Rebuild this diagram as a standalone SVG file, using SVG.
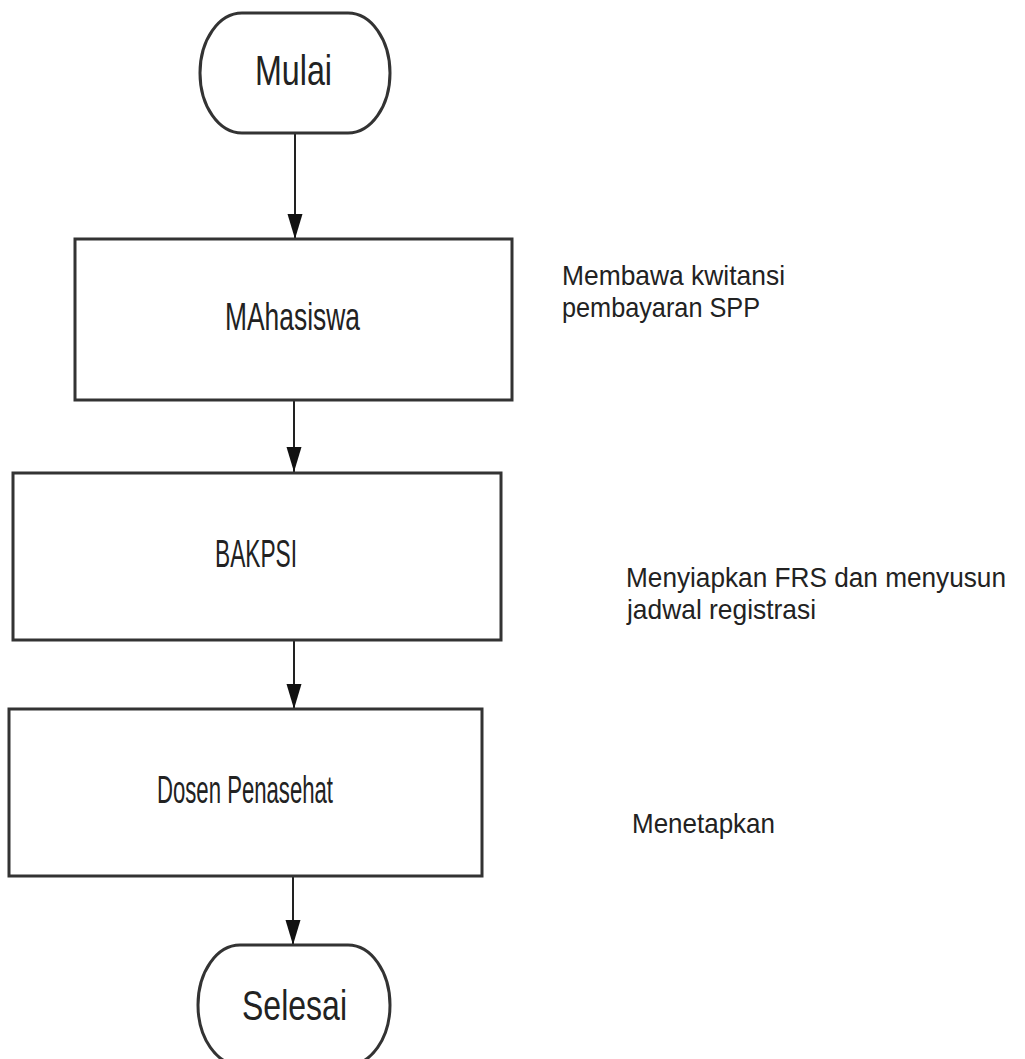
<svg xmlns="http://www.w3.org/2000/svg" width="1025" height="1059" viewBox="0 0 1025 1059">
<style>
  .shape { fill: #ffffff; stroke: #333333; stroke-width: 3; }
  .conn { fill: none; stroke: #222222; stroke-width: 2; }
  .lbl { font-family: "Liberation Sans", Arial, sans-serif; fill: #222222; }
  .term { font-size: 42px; }
  .box { font-size: 38px; }
  .side { font-size: 28px; }
  .side-s { font-size: 27px; }
</style>
<defs>
  <marker id="arrow" markerUnits="userSpaceOnUse" viewBox="0 -8 25 16" refX="25" refY="0" markerWidth="25" markerHeight="16" orient="auto">
    <path d="M0,-7.5 L25,0 L0,7.5 Z" fill="#111111"/>
  </marker>
</defs>
<rect width="1025" height="1059" fill="#ffffff"/>
<g id="connectors">
  <line class="conn" x1="295" y1="133" x2="295" y2="239" marker-end="url(#arrow)"/>
  <line class="conn" x1="294" y1="400" x2="294" y2="472" marker-end="url(#arrow)"/>
  <line class="conn" x1="294" y1="640" x2="294" y2="709" marker-end="url(#arrow)"/>
  <line class="conn" x1="293" y1="876" x2="293" y2="945" marker-end="url(#arrow)"/>
</g>
<g id="node-mulai">
  <rect class="shape" x="200" y="13" width="190" height="120" rx="42" ry="60"/>
  <text class="lbl term" x="255" y="85" textLength="77" lengthAdjust="spacingAndGlyphs">Mulai</text>
</g>
<g id="node-mahasiswa">
  <rect class="shape" x="75" y="239" width="437" height="161"/>
  <text class="lbl box" x="225" y="330" textLength="135" lengthAdjust="spacingAndGlyphs">MAhasiswa</text>
</g>
<g id="node-bakpsi">
  <rect class="shape" x="13" y="473" width="488" height="167"/>
  <text class="lbl box" x="215" y="567" textLength="82" lengthAdjust="spacingAndGlyphs">BAKPSI</text>
</g>
<g id="node-dosen">
  <rect class="shape" x="9" y="709" width="473" height="167"/>
  <text class="lbl box" x="157" y="803" textLength="176" lengthAdjust="spacingAndGlyphs">Dosen Penasehat</text>
</g>
<g id="node-selesai">
  <rect class="shape" x="198" y="945" width="192" height="120" rx="42" ry="60"/>
  <text class="lbl term" x="242" y="1020" textLength="105" lengthAdjust="spacingAndGlyphs">Selesai</text>
</g>
<g id="label-membawa">
  <text class="lbl side" x="562" y="285" textLength="223" lengthAdjust="spacingAndGlyphs">Membawa kwitansi</text>
  <text class="lbl side" x="562" y="317" textLength="198" lengthAdjust="spacingAndGlyphs">pembayaran SPP</text>
</g>
<g id="label-menyiapkan">
  <text class="lbl side-s" x="626" y="587" textLength="380" lengthAdjust="spacingAndGlyphs">Menyiapkan FRS dan menyusun</text>
  <text class="lbl side" x="627" y="619" textLength="189" lengthAdjust="spacingAndGlyphs">jadwal registrasi</text>
</g>
<g id="label-menetapkan">
  <text class="lbl side" x="632" y="833" textLength="143" lengthAdjust="spacingAndGlyphs">Menetapkan</text>
</g>
</svg>
